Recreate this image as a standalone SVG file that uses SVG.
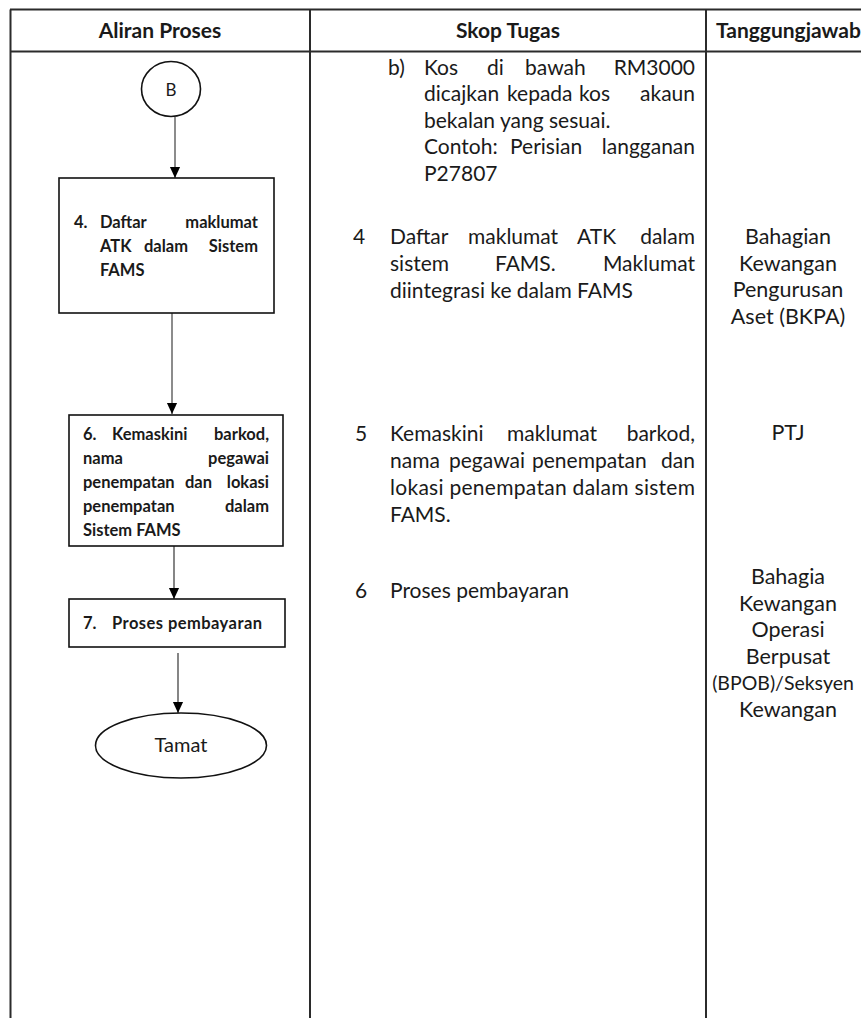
<svg xmlns="http://www.w3.org/2000/svg" width="861" height="1018" viewBox="0 0 861 1018">
<style>
.grid{stroke:#2b2b2b;stroke-width:2;fill:none}
.hd{font-family:Lato,"Open Sans",sans-serif;font-weight:bold;font-size:21px;fill:#1a1a1a}
.tx{font-family:Lato,"Open Sans",sans-serif;font-size:21px;fill:#1a1a1a}
.rc{font-family:Lato,"Open Sans",sans-serif;font-size:21.5px;fill:#1a1a1a;text-anchor:middle}
.bx{font-family:Lato,"Open Sans",sans-serif;font-weight:bold;font-size:16.5px;fill:#1a1a1a}
.shape{fill:#fff;stroke:#111;stroke-width:1.6}
.c1{stroke:#8c8c8c;stroke-width:2;fill:none}
.c2{stroke:#444;stroke-width:1.3;fill:none}
</style>
<defs>
<marker id="ahd" markerUnits="userSpaceOnUse" markerWidth="12" markerHeight="14" refX="13" refY="6" orient="auto" viewBox="0 0 14 12">
<path d="M0,0 L13,6 L0,12 Z" fill="#000"/>
</marker>
</defs>
<rect x="0" y="0" width="861" height="1018" fill="#fff"/>
<g id="table">
<line class="grid" x1="10" y1="9.5" x2="861" y2="9.5"/>
<line class="grid" x1="10" y1="51.5" x2="861" y2="51.5"/>
<line class="grid" x1="10.5" y1="9.5" x2="10.5" y2="1018"/>
<line class="grid" x1="310" y1="9.5" x2="310" y2="1018"/>
<line class="grid" x1="706" y1="9.5" x2="706" y2="1018"/>
<text class="hd" x="160" y="38" text-anchor="middle">Aliran Proses</text>
<text class="hd" x="508" y="38" text-anchor="middle">Skop Tugas</text>
<text class="hd" x="716" y="38">Tanggungjawab</text>
</g>
<g id="connectors">
<line class="c1" x1="175" y1="117" x2="175" y2="178" marker-end="url(#ahd)"/>
<line class="c1" x1="172" y1="313" x2="172" y2="414" marker-end="url(#ahd)"/>
<line class="c2" x1="174" y1="546" x2="174" y2="599" marker-end="url(#ahd)"/>
<line class="c2" x1="178" y1="653" x2="178" y2="713" marker-end="url(#ahd)"/>
</g>
<g id="node-b">
<ellipse class="shape" cx="171" cy="89" rx="29.5" ry="27.5"/>
<text x="171" y="96" font-family="Lato,'Open Sans',sans-serif" font-size="17" fill="#1a1a1a" text-anchor="middle">B</text>
</g>
<g id="node-4">
<rect class="shape" x="59" y="178" width="215" height="135"/>
<text class="bx" y="228"><tspan x="74">4.</tspan><tspan x="100">Daftar</tspan><tspan x="258" text-anchor="end">maklumat</tspan></text>
<text class="bx" y="252"><tspan x="100">ATK</tspan><tspan x="144">dalam</tspan><tspan x="258" text-anchor="end">Sistem</tspan></text>
<text class="bx" y="276" x="100">FAMS</text>
</g>
<g id="node-6">
<rect class="shape" x="69" y="415" width="214" height="131"/>
<text class="bx" y="440"><tspan x="83">6.</tspan><tspan x="112">Kemaskini</tspan><tspan x="269" text-anchor="end">barkod,</tspan></text>
<text class="bx" y="464"><tspan x="83">nama</tspan><tspan x="269" text-anchor="end">pegawai</tspan></text>
<text class="bx" y="488"><tspan x="83">penempatan</tspan><tspan x="185">dan</tspan><tspan x="269" text-anchor="end">lokasi</tspan></text>
<text class="bx" y="512"><tspan x="83">penempatan</tspan><tspan x="269" text-anchor="end">dalam</tspan></text>
<text class="bx" y="536" x="83">Sistem FAMS</text>
</g>
<g id="node-7">
<rect class="shape" x="69" y="599" width="216" height="48"/>
<text class="bx" y="629"><tspan x="83">7.</tspan></text>
<text class="bx" y="629" x="112" textLength="150" lengthAdjust="spacing">Proses pembayaran</text>
</g>
<g id="node-tamat">
<ellipse class="shape" cx="181" cy="745.5" rx="85.5" ry="32.5"/>
<text x="181" y="752" font-family="Lato,'Open Sans',sans-serif" font-size="20" fill="#1a1a1a" text-anchor="middle">Tamat</text>
</g>
<g id="scope">
<text class="tx" y="75"><tspan x="388">b)</tspan><tspan x="424">Kos</tspan><tspan x="487">di</tspan><tspan x="525">bawah</tspan><tspan x="695" text-anchor="end">RM3000</tspan></text>
<text class="tx" y="101"><tspan x="424">dicajkan</tspan><tspan x="507">kepada</tspan><tspan x="579">kos</tspan><tspan x="695" text-anchor="end">akaun</tspan></text>
<text class="tx" y="127.5" x="424">bekalan yang sesuai.</text>
<text class="tx" y="154"><tspan x="424">Contoh:</tspan><tspan x="510">Perisian</tspan><tspan x="695" text-anchor="end">langganan</tspan></text>
<text class="tx" y="180.5" x="424">P27807</text>
<text class="tx" y="244"><tspan x="353">4</tspan><tspan x="390">Daftar</tspan><tspan x="468">maklumat</tspan><tspan x="577">ATK</tspan><tspan x="695" text-anchor="end">dalam</tspan></text>
<text class="tx" y="271"><tspan x="390">sistem</tspan><tspan x="495">FAMS.</tspan><tspan x="695" text-anchor="end">Maklumat</tspan></text>
<text class="tx" y="298" x="390">diintegrasi ke dalam FAMS</text>
<text class="tx" y="441"><tspan x="355">5</tspan><tspan x="390">Kemaskini</tspan><tspan x="507">maklumat</tspan><tspan x="695" text-anchor="end">barkod,</tspan></text>
<text class="tx" y="468"><tspan x="390">nama</tspan><tspan x="449">pegawai</tspan><tspan x="532">penempatan</tspan><tspan x="695" text-anchor="end">dan</tspan></text>
<text class="tx" y="495" x="390" textLength="305" lengthAdjust="spacing">lokasi penempatan dalam sistem</text>
<text class="tx" y="522" x="390">FAMS.</text>
<text class="tx" y="598"><tspan x="355">6</tspan><tspan x="390">Proses pembayaran</tspan></text>
</g>
<g id="responsibility">
<text class="rc" x="788" y="244">Bahagian</text>
<text class="rc" x="788" y="270.5">Kewangan</text>
<text class="rc" x="788" y="297">Pengurusan</text>
<text class="rc" x="788" y="323.5">Aset (BKPA)</text>
<text class="rc" x="788" y="440">PTJ</text>
<text class="rc" x="788" y="584">Bahagia</text>
<text class="rc" x="788" y="610.5">Kewangan</text>
<text class="rc" x="788" y="637">Operasi</text>
<text class="rc" x="788" y="663.5">Berpusat</text>
<text class="rc" x="783" y="690" style="font-size:19.5px">(BPOB)/Seksyen</text>
<text class="rc" x="788" y="716.5">Kewangan</text>
</g>
</svg>
